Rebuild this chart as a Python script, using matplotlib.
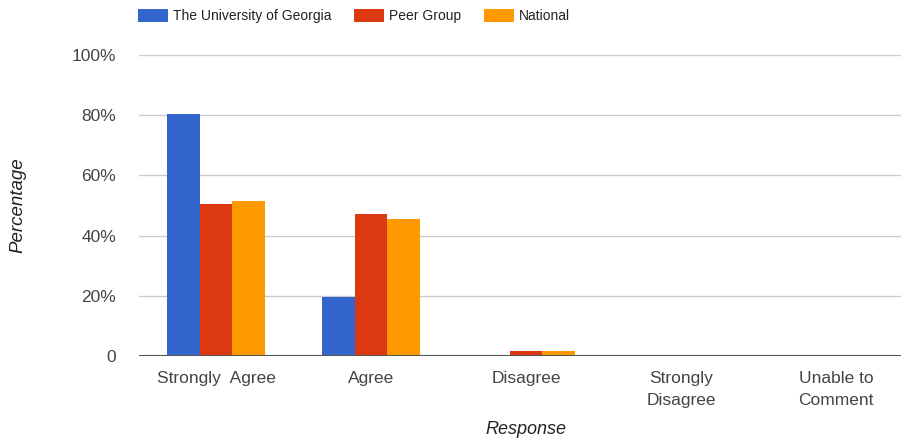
import numpy as np
import matplotlib.pyplot as plt

plt.rcParams['font.family'] = ['Liberation Sans', 'DejaVu Sans']

categories = ['Strongly  Agree', 'Agree', 'Disagree', 'Strongly\nDisagree', 'Unable to\nComment']
series_names = ['The University of Georgia', 'Peer Group', 'National']
uga = [80.4, 19.6, 0.2, 0.2, 0.2]
peer = [50.5, 47.2, 1.8, 0.2, 0.2]
national = [51.5, 45.5, 1.7, 0.2, 0.2]
colors = ['#3366cc', '#dc3912', '#ff9900']

fig = plt.figure(figsize=(9.01, 4.42), dpi=100)
# plot area is cut at the right side of the picture
ax = fig.add_axes([138.5 / 901, (442 - 356) / 442, 775 / 901, 301 / 442])

x = np.arange(len(categories))
w = 0.212
for i, (vals, name) in enumerate(zip([uga, peer, national], series_names)):
    ax.bar(x + (i - 1) * w, vals, width=w, color=colors[i], label=name, zorder=3)

ax.set_xlim(-0.5, len(categories) - 0.5)
ax.set_ylim(0, 100)
ax.set_yticks([0, 20, 40, 60, 80, 100])
ax.set_yticklabels(['0', '20%', '40%', '60%', '80%', '100%'])
ax.set_xticks(x)
ax.set_xticklabels(categories, linespacing=1.6)
ax.tick_params(axis='both', length=0, labelsize=12.5, labelcolor='#444444')
ax.tick_params(axis='y', pad=16)
ax.tick_params(axis='x', pad=11)

ax.grid(axis='y', color='#cccccc', linewidth=1, zorder=0)
ax.axhline(0, color='#555555', linewidth=1.5, zorder=4)
for s in ax.spines.values():
    s.set_visible(False)

ax.set_ylabel('Percentage', fontsize=13.5, style='italic', color='#222222', labelpad=33)
ax.set_xlabel('Response', fontsize=13, style='italic', color='#222222', labelpad=9)

ax.legend(loc='center left', bbox_to_anchor=(-0.001, 1.128), ncol=3, frameon=False,
          fontsize=10, handlelength=2.16, handleheight=1.0, columnspacing=1.65,
          handletextpad=0.36, labelcolor='#222222', borderaxespad=0, borderpad=0)

fig.savefig('out.png', dpi=100)
